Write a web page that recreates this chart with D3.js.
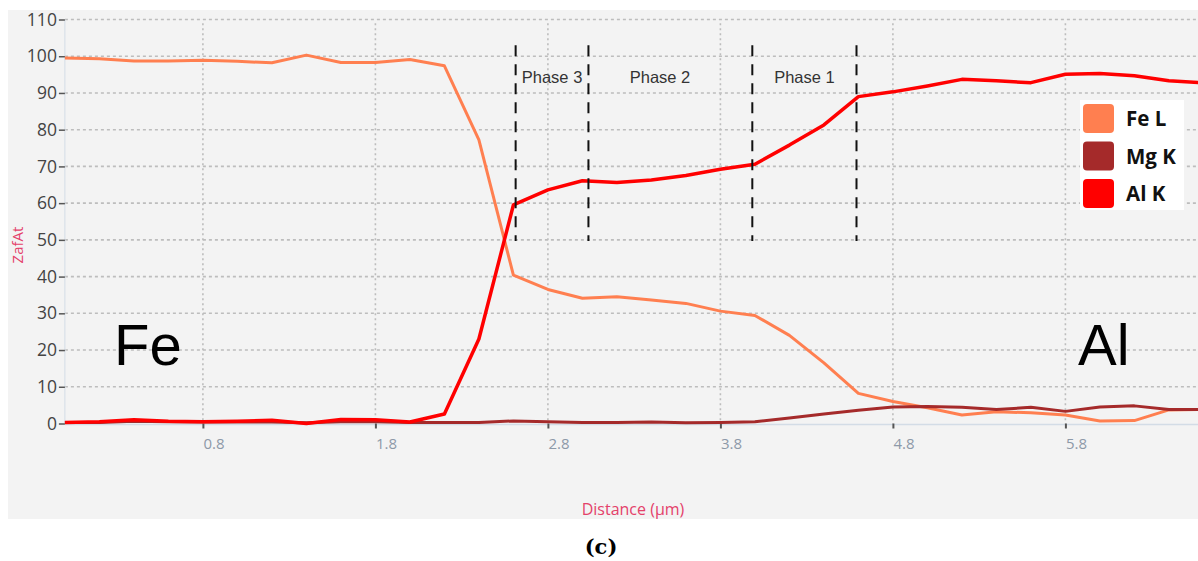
<!DOCTYPE html>
<html>
<head>
<meta charset="utf-8">
<script src="https://cdn.jsdelivr.net/npm/d3@7"></script>
<style>
    body { margin: 0; background: #fff; }
    svg { display: block; }
</style>
</head>
<body>
<svg></svg>
<script>
// distance steps (µm)
let distance = [0, 0.2, 0.4, 0.6, 0.8, 1.0, 1.2, 1.4, 1.6, 1.8, 2.0, 2.2, 2.4, 2.6, 2.8, 3.0, 3.2,
    3.4, 3.6, 3.8, 4.0, 4.2, 4.4, 4.6, 4.8, 5.0, 5.2, 5.4, 5.6, 5.8, 6.0, 6.2, 6.4, 6.6];
let feL = [99.5, 99.3, 98.7, 98.7, 98.9, 98.6, 98.2, 100.3, 98.3, 98.3, 99.1, 97.4, 77.2, 40.4, 36.5,
    34.1, 34.5, 33.6, 32.7, 30.6, 29.4, 24.0, 16.5, 8.2, 6.0, 4.3, 2.3, 3.2, 2.9, 2.3, 0.7, 0.8, 3.7, 3.8];
let mgK = [0.3, 0.3, 0.6, 0.5, 0.4, 0.4, 0.4, 0.2, 0.5, 0.5, 0.3, 0.3, 0.3, 0.7, 0.5, 0.3, 0.3,
    0.4, 0.2, 0.3, 0.5, 1.5, 2.6, 3.6, 4.5, 4.6, 4.4, 3.8, 4.4, 3.3, 4.5, 4.8, 3.8, 3.8];
let alK = [0.3, 0.5, 1.0, 0.6, 0.5, 0.6, 0.9, 0.0, 1.1, 1.0, 0.4, 2.6, 23.0, 59.5, 63.6, 66.1, 65.6,
    66.3, 67.5, 69.2, 70.6, 75.8, 81.3, 89.0, 90.3, 91.9, 93.7, 93.3, 92.8, 95.1, 95.3, 94.7, 93.3, 92.8];

let seriesNames = ["Fe L", "Mg K", "Al K"];
let seriesColors = ["#ff7f50", "#a52a2a", "#ff0000"];

let xTicks = [0.8, 1.8, 2.8, 3.8, 4.8, 5.8];
let yTicks = [0, 10, 20, 30, 40, 50, 60, 70, 80, 90, 100, 110];

// phase boundaries and labels
let phaseX = [2.613, 3.035, 3.985, 4.589];
let phaseLabels = ["Phase 3", "Phase 2", "Phase 1"];
let phaseLabelX = [2.824, 3.45, 4.287];

let width = 1198;
let height = 561;

let svg = d3.select("svg")
    .attr("width", width)
    .attr("height", height);

let scaleX = d3.scaleLinear()
    .domain([0, 6.6])
    .range([64.9, 64.9 + 6.6 * 172.5]);

let scaleY = d3.scaleLinear()
    .domain([0, 110])
    .range([423.5, 19.5]);

// grey panel
svg.append("rect")
    .attr("x", 8).attr("y", 10)
    .attr("width", width - 8).attr("height", 509)
    .style("fill", "#f3f3f3");

svg.append("clipPath").attr("id", "plotClip")
    .append("rect")
    .attr("x", 64).attr("y", 0)
    .attr("width", width - 64).attr("height", 430);

// grid
svg.selectAll(".hgrid")
    .data(yTicks)
    .enter()
    .append("line")
    .attr("x1", scaleX(0)).attr("x2", width)
    .attr("y1", d => scaleY(d)).attr("y2", d => scaleY(d))
    .style("stroke", d => d == 0 ? "none" : "#bdbdbd")
    .style("stroke-width", 1.6)
    .style("stroke-dasharray", "3,3");

svg.selectAll(".vgrid")
    .data(xTicks)
    .enter()
    .append("line")
    .attr("x1", d => scaleX(d)).attr("x2", d => scaleX(d))
    .attr("y1", scaleY(109)).attr("y2", scaleY(0))
    .style("stroke", "#bdbdbd")
    .style("stroke-width", 1.6)
    .style("stroke-dasharray", "2,3");

// axes lines
svg.append("line")
    .attr("x1", scaleX(0)).attr("x2", scaleX(0))
    .attr("y1", scaleY(110)).attr("y2", scaleY(0))
    .style("stroke", "#d3dce6").style("stroke-width", 1);
svg.append("line")
    .attr("x1", scaleX(0)).attr("x2", width)
    .attr("y1", scaleY(0) + 1).attr("y2", scaleY(0) + 1)
    .style("stroke", "#d3dce6").style("stroke-width", 1.5);

// y axis
let axisY = d3.axisLeft(scaleY).tickValues(yTicks).tickSize(6).tickPadding(2);
let gY = svg.append("g")
    .attr("transform", `translate(${scaleX(0)}, 0)`)
    .call(axisY);
gY.select(".domain").remove();
gY.selectAll(".tick line").style("stroke", "#555").style("stroke-width", 1.5);
gY.selectAll(".tick text")
    .style("font-family", "'Open Sans', sans-serif")
    .style("font-size", "17.5px")
    .style("fill", "#444");

// x axis
let axisX = d3.axisBottom(scaleX).tickValues(xTicks).tickSize(5).tickFormat(d3.format(".1f"));
let gX = svg.append("g")
    .attr("transform", `translate(0, ${scaleY(0)})`)
    .call(axisX);
gX.select(".domain").remove();
gX.selectAll(".tick line").style("stroke", "#555").style("stroke-width", 2);
gX.selectAll(".tick text")
    .attr("text-anchor", "start")
    .attr("x", 0)
    .attr("y", 15)
    .style("font-family", "'Open Sans', sans-serif")
    .style("font-size", "15px")
    .style("fill", "#8d99a8");

// axis titles
svg.append("text")
    .attr("transform", "translate(23, 245) rotate(-90)")
    .attr("text-anchor", "middle")
    .style("font-family", "'Open Sans', sans-serif")
    .style("font-size", "15px")
    .style("fill", "#e4416a")
    .text("ZafAt");

svg.append("text")
    .attr("x", 633).attr("y", 515)
    .attr("text-anchor", "middle")
    .style("font-family", "'Open Sans', sans-serif")
    .style("font-size", "16px")
    .style("fill", "#e4416a")
    .text("Distance (µm)");

svg.append("text")
    .attr("x", 601).attr("y", 554)
    .attr("text-anchor", "middle")
    .style("font-family", "'DejaVu Serif', 'Liberation Serif', serif")
    .style("font-weight", "bold")
    .style("font-size", "21px")
    .style("fill", "#000")
    .text("(c)");

// big element labels
svg.append("text")
    .attr("x", 114).attr("y", 365)
    .style("font-family", "'Liberation Sans', Arial, sans-serif")
    .style("font-size", "58px")
    .style("fill", "#000")
    .text("Fe");
svg.append("text")
    .attr("x", 1078).attr("y", 365)
    .style("font-family", "'Liberation Sans', Arial, sans-serif")
    .style("font-size", "58px")
    .style("fill", "#000")
    .text("Al");

// lines
let allSeries = [feL, mgK, alK];
let lineF = d3.line()
    .x((d, i) => scaleX(distance[i]))
    .y(d => scaleY(d));

svg.append("g")
    .attr("clip-path", "url(#plotClip)")
    .selectAll(".series")
    .data(allSeries)
    .enter()
    .append("path")
    .attr("d", d => lineF(d))
    .style("fill", "none")
    .style("stroke", (d, i) => seriesColors[i])
    .style("stroke-width", (d, i) => i == 2 ? 3.5 : 3)
    .style("stroke-linejoin", "round");

// phase boundaries
svg.selectAll(".phase")
    .data(phaseX)
    .enter()
    .append("line")
    .attr("x1", d => scaleX(d)).attr("x2", d => scaleX(d))
    .attr("y1", scaleY(103)).attr("y2", scaleY(49.7))
    .style("stroke", "#111")
    .style("stroke-width", 2)
    .style("stroke-dasharray", "11,8");

svg.selectAll(".phaseLabel")
    .data(phaseLabels)
    .enter()
    .append("text")
    .attr("x", (d, i) => scaleX(phaseLabelX[i]))
    .attr("y", scaleY(92.6))
    .attr("text-anchor", "middle")
    .style("font-family", "'Liberation Sans', Arial, sans-serif")
    .style("font-size", "16.5px")
    .style("fill", "#333")
    .text(d => d);

// legend
let legend = svg.append("g").attr("transform", "translate(1080, 100)");
legend.append("rect")
    .attr("width", 104).attr("height", 110)
    .style("fill", "#fff");
let items = legend.selectAll(".item")
    .data(seriesNames)
    .enter()
    .append("g")
    .attr("transform", (d, i) => `translate(3, ${4 + i * 37.5})`);
items.append("rect")
    .attr("width", 31).attr("height", 29)
    .attr("rx", 4)
    .style("fill", (d, i) => seriesColors[i]);
items.append("text")
    .attr("x", 43).attr("y", 22)
    .style("font-family", "'Open Sans', sans-serif")
    .style("font-weight", "bold")
    .style("font-size", "20.5px")
    .style("fill", "#111")
    .text(d => d);
</script>
</body>
</html>
